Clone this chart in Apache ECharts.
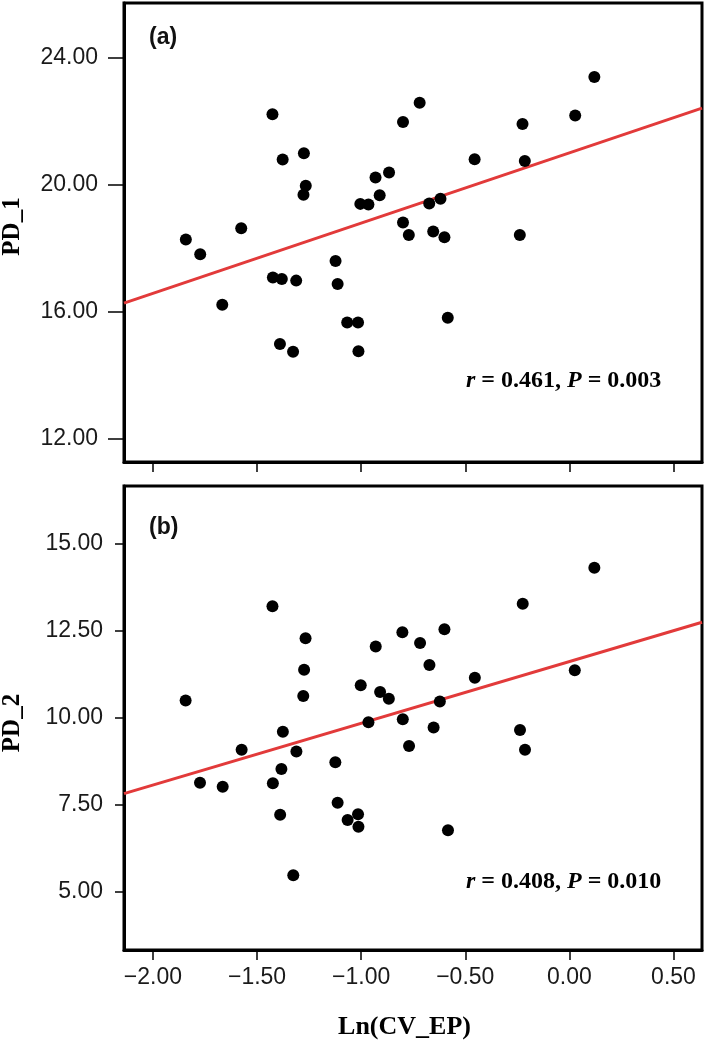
<!DOCTYPE html>
<html>
<head>
<meta charset="utf-8">
<script src="https://cdn.jsdelivr.net/npm/echarts@6/dist/echarts.min.js"></script>
<style>
  html, body { margin: 0; padding: 0; background: #fff; }
  #chart { width: 709px; height: 1041px; }
</style>
</head>
<body>
<div id="chart"></div>
<script>
// panel (a): Ln(CV_EP) vs PD_1
const xA = [-1.842, -1.773, -1.667, -1.576, -1.426, -1.424, -1.381, -1.377, -1.390, -1.327,
  -1.312, -1.275, -1.266, -1.277, -1.123, -1.113, -1.067, -1.015, -1.013, -1.004,
  -0.965, -0.931, -0.911, -0.866, -0.799, -0.799, -0.771, -0.719, -0.673, -0.654,
  -0.619, -0.600, -0.584, -0.455, -0.238, -0.225, -0.214, 0.028, 0.120]
const pd1 = [18.28, 17.81, 16.22, 18.63, 22.23, 17.08, 17.03, 20.80, 14.98, 14.74,
  16.98, 21.00, 19.97, 19.69, 17.60, 16.87, 15.66, 15.66, 14.75, 19.40,
  19.38, 20.23, 19.67, 20.39, 21.98, 18.81, 18.42, 22.59, 19.41, 18.53,
  19.56, 18.35, 15.81, 20.81, 18.42, 21.92, 20.75, 22.19, 23.40]

// panel (b): Ln(CV_EP) vs PD_2
const xB = [-1.843, -1.774, -1.665, -1.574, -1.426, -1.424, -1.376, -1.383, -1.389, -1.326,
  -1.311, -1.267, -1.274, -1.278, -1.124, -1.113, -1.065, -1.015, -1.013, -1.002,
  -0.965, -0.930, -0.909, -0.867, -0.802, -0.800, -0.770, -0.717, -0.672, -0.652,
  -0.622, -0.600, -0.583, -0.454, -0.237, -0.224, -0.213, 0.026, 0.120]
const pd2 = [10.50, 8.13, 8.02, 9.08, 13.21, 8.12, 9.60, 8.53, 7.21, 5.47,
  9.03, 12.29, 11.38, 10.63, 8.72, 7.56, 7.06, 7.23, 6.87, 10.94,
  9.87, 12.05, 10.74, 10.55, 12.46, 9.96, 9.19, 12.15, 11.52, 9.72,
  10.47, 12.55, 6.77, 11.15, 9.65, 13.28, 9.08, 11.37, 14.32]

// fitted lines, end points read at the frame edges
const fitA = [[-2.139, 16.27], [0.637, 22.42]]
const fitB = [[-2.139, 7.82], [0.637, 12.75]]

const xTicks = [-2, -1.5, -1, -0.5, 0, 0.5]
const yTicksA = [12, 16, 20, 24]
const yTicksB = [5, 7.5, 10, 12.5, 15]

const sans = '"Liberation Sans", Arial, Helvetica, sans-serif'
const serif = '"Liberation Serif", "Times New Roman", serif'
const fmt = (v) => v.toFixed(2).replace('-', '\u2212')

const zip = (xs, ys) => xs.map((x, i) => [x, ys[i]])

function makeX (gridIndex, showLabel) {
  return {
    type: 'value',
    gridIndex,
    min: -2.139,
    max: 0.637,
    splitLine: { show: false },
    axisLine: { onZero: false, lineStyle: { color: '#000', width: 3 } },
    axisTick: { customValues: xTicks, length: 10, lineStyle: { color: '#000', width: 1.5 } },
    axisLabel: {
      show: showLabel,
      customValues: xTicks,
      formatter: fmt,
      margin: 16,
      fontFamily: sans,
      fontSize: 23,
      color: '#1a1a1a'
    },
    name: showLabel ? 'Ln(CV_EP)' : '',
    nameLocation: 'middle',
    nameGap: 64,
    nameTextStyle: {
      fontFamily: serif,
      fontWeight: 'bold',
      fontSize: 26,
      color: '#000',
      padding: [0, 17, 0, 0]
    }
  }
}

function makeY (gridIndex, min, max, ticks, tickLen, margin, name, pad) {
  return {
    type: 'value',
    gridIndex,
    min,
    max,
    splitLine: { show: false },
    axisLine: { onZero: false, lineStyle: { color: '#000', width: 3 } },
    axisTick: { customValues: ticks, length: tickLen, lineStyle: { color: '#000', width: 1.5 } },
    axisLabel: {
      customValues: ticks,
      formatter: fmt,
      margin,
      fontFamily: sans,
      fontSize: 23,
      color: '#1a1a1a'
    },
    name,
    nameLocation: 'middle',
    nameGap: 99,
    nameTextStyle: {
      fontFamily: serif,
      fontWeight: 'bold',
      fontSize: 25,
      color: '#000',
      padding: pad
    }
  }
}

function statTitle (text, top) {
  const base = { fontFamily: serif, fontWeight: 'bold', fontSize: 24, lineHeight: 26, color: '#000' }
  return {
    text,
    left: 461,
    top,
    textStyle: {
      ...base,
      rich: {
        t: { ...base },
        i: { ...base, fontStyle: 'italic' },
        p: { ...base, fontStyle: 'italic', padding: [0, 0, 0, 6] }
      }
    }
  }
}

function panelTag (text, top) {
  return {
    text,
    left: 144,
    top,
    textStyle: { fontFamily: sans, fontWeight: 'bold', fontSize: 23, lineHeight: 26, color: '#111' }
  }
}

const chart = echarts.init(document.getElementById('chart'), null, { renderer: 'canvas' })

const option = {
  animation: false,
  backgroundColor: '#fff',
  title: [
    panelTag('(a)', 20),
    panelTag('(b)', 510),
    statTitle('{i|r}{t| = 0.461,}{p|P}{t| = 0.003}', 363),
    statTitle('{i|r}{t| = 0.408,}{p|P}{t| = 0.010}', 864)
  ],
  grid: [
    { left: 124, right: 7, top: 3, height: 459, show: true, borderColor: '#000', borderWidth: 3, outerBoundsMode: 'none' },
    { left: 124, right: 7, top: 486, height: 464, show: true, borderColor: '#000', borderWidth: 3, outerBoundsMode: 'none' }
  ],
  xAxis: [makeX(0, false), makeX(1, true)],
  yAxis: [
    makeY(0, 11.26, 25.735, yTicksA, 16, 26, 'PD_1', [0, 0, 0, 12]),
    makeY(1, 3.323, 16.668, yTicksB, 9, 21, 'PD_2', [0, 10, 0, 0])
  ],
  series: [
    {
      type: 'line',
      xAxisIndex: 0,
      yAxisIndex: 0,
      data: fitA,
      symbol: 'none',
      lineStyle: { color: '#e23a3a', width: 3 },
      z: 2
    },
    {
      type: 'scatter',
      xAxisIndex: 0,
      yAxisIndex: 0,
      data: zip(xA, pd1),
      symbolSize: 12,
      itemStyle: { color: '#000', opacity: 1 },
      z: 3
    },
    {
      type: 'line',
      xAxisIndex: 1,
      yAxisIndex: 1,
      data: fitB,
      symbol: 'none',
      lineStyle: { color: '#e23a3a', width: 3 },
      z: 2
    },
    {
      type: 'scatter',
      xAxisIndex: 1,
      yAxisIndex: 1,
      data: zip(xB, pd2),
      symbolSize: 12,
      itemStyle: { color: '#000', opacity: 1 },
      z: 3
    }
  ]
}

chart.setOption(option)
</script>
</body>
</html>
